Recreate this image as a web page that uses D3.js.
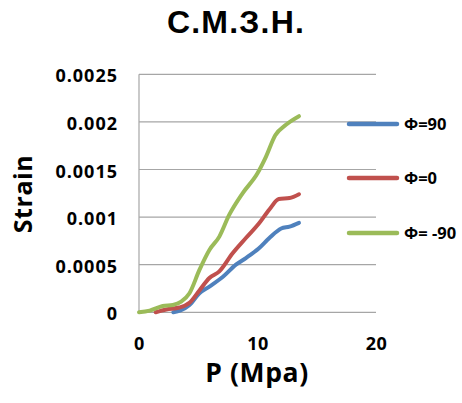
<!DOCTYPE html>
<html><head><meta charset="utf-8">
<script src="https://cdn.jsdelivr.net/npm/d3@7"></script>
<style>body{margin:0;background:#fff;}svg{display:block;}text{font-family:"Open Sans","DejaVu Sans",sans-serif;font-weight:bold;fill:#000;}</style>
</head><body><svg id="c" width="462" height="403"></svg>
<script>
const title = "С.М.З.Н.";
const xLabel = "P (Mpa)";
const yLabel = "Strain";
const xTicks = [0, 10, 20];
const yTicks = [0, 0.0005, 0.001, 0.0015, 0.002, 0.0025];
const seriesNames = ["Φ=90", "Φ=0", "Φ= -90"];
const seriesColors = ["#4f81bd", "#c0504d", "#9bbb59"];
const p90 = [2.9, 3.5, 4.26, 5.1, 5.94, 7.06, 8.18, 9.02, 10.1, 11.0, 12.0, 12.7, 13.5];
const s90 = [0, 0.00002, 0.000077, 0.0002, 0.00027, 0.00037, 0.0005, 0.00057, 0.00067, 0.00078, 0.00088, 0.0009, 0.00094];
const p0 = [1.4, 2.3, 3.4, 4.26, 5.1, 5.94, 6.78, 7.9, 9.02, 10.1, 11.0, 11.8, 12.7, 13.5];
const s0 = [0, 0.00003, 0.00005, 0.0001, 0.00023, 0.00036, 0.00043, 0.00062, 0.00078, 0.00093, 0.00108, 0.00119, 0.0012, 0.00124];
const pm90 = [0, 0.9, 2.0, 2.86, 3.56, 4.26, 5.1, 5.94, 6.78, 7.6, 8.74, 10.0, 10.7, 11.5, 12.4, 13.5];
const sm90 = [0, 0.0000175, 0.000066, 0.000077, 0.000112, 0.0002, 0.000445, 0.000655, 0.000795, 0.00102, 0.00125, 0.00146, 0.00163, 0.00186, 0.00197, 0.00206];

const seriesP = [p90, p0, pm90];
const seriesS = [s90, s0, sm90];

const svg = d3.select("#c");
const x = d3.scaleLinear().domain([0, 20]).range([139, 376]);
const y = d3.scaleLinear().domain([0, 0.0025]).range([312.3, 74.3]);

// gridlines
svg.append("g").selectAll("line").data(yTicks).join("line")
  .attr("x1", x(0)).attr("x2", x(20))
  .attr("y1", d => y(d)).attr("y2", d => y(d))
  .attr("stroke", "#a6a6a6").attr("stroke-width", 1.2);
// left axis line
svg.append("line").attr("x1", x(0)).attr("x2", x(0)).attr("y1", y(0)).attr("y2", y(0.0025))
  .attr("stroke", "#a6a6a6").attr("stroke-width", 1.2);

// y tick labels
svg.append("g").selectAll("text").data(yTicks).join("text")
  .attr("x", 118).attr("y", d => y(d) + 8)
  .attr("text-anchor", "end").attr("font-size", 18).attr("letter-spacing", 1)
  .text(d => d === 0 ? "0" : String(d));
// x tick labels
svg.append("g").selectAll("text").data(xTicks).join("text")
  .attr("x", d => x(d) + 0.5).attr("y", 350)
  .attr("text-anchor", "middle").attr("font-size", 18).attr("letter-spacing", 0.5)
  .text(d => d);

// lines
const line = d3.line().x(d => x(d[0])).y(d => y(d[1])).curve(d3.curveMonotoneX);
seriesP.forEach((ps, i) => {
  const pts = ps.map((p, j) => [p, seriesS[i][j]]);
  svg.append("path").attr("d", line(pts)).attr("fill", "none")
    .attr("stroke", seriesColors[i]).attr("stroke-width", 4)
    .attr("stroke-linejoin", "round").attr("stroke-linecap", "round");
});

// legend
const legY = [124, 178, 233];
seriesNames.forEach((n, i) => {
  svg.append("line").attr("x1", 349).attr("x2", 397).attr("y1", legY[i]).attr("y2", legY[i])
    .attr("stroke", seriesColors[i]).attr("stroke-width", 4.5).attr("stroke-linecap", "round");
  svg.append("text").attr("x", 404).attr("y", legY[i] + 6).attr("font-size", 16.5).text(n);
});

// title
svg.append("text").attr("x", 236).attr("y", 33).attr("text-anchor", "middle")
  .style("font-family", "'Liberation Sans', Arial, sans-serif")
  .attr("font-size", 32).attr("letter-spacing", 1.2).text(title);
// axis titles
svg.append("text").attr("x", 257).attr("y", 382).attr("text-anchor", "middle").attr("font-size", 26.5).attr("letter-spacing", 0.6).text(xLabel);
svg.append("text").attr("transform", "translate(32,194) rotate(-90)").attr("text-anchor", "middle").attr("font-size", 25).attr("letter-spacing", 0.6).text(yLabel);
</script></body></html>
